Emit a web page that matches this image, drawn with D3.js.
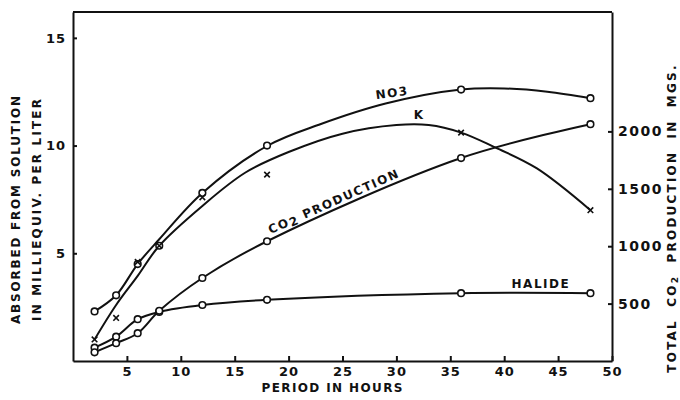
<!DOCTYPE html>
<html lang="en">
  <head>
    <meta charset="utf-8">
    <title>Absorption and CO2 production</title>
    <script src="https://d3js.org/d3.v7.min.js"></script>
    <style>
      body { margin: 0; background: #fff; }
      svg text { font-family: "DejaVu Sans", sans-serif; font-weight: bold; fill: #111; }
      .axis path, .axis line { stroke: #111; stroke-width: 2; }
      .axis text { font-size: 13px; letter-spacing: 1px; }
    </style>
  </head>
  <body>
    <div id="chart"></div>
    <script>
      // sampling times (hours)
      const hours = [2, 4, 6, 8, 12, 18, 36, 48]
      // milliequiv. per liter absorbed
      const no3 = [2.3, 3.05, 4.5, 5.35, 7.8, 10.0, 12.6, 12.2]
      const potassium = [1.0, 2.0, 4.6, 5.35, 7.6, 8.65, 10.6, 7.0]
      const halide = [0.62, 1.13, 1.94, 2.28, 2.6, 2.84, 3.15, 3.15]
      // total CO2 in mgs (right axis)
      const co2 = [76, 155, 242, 437, 723, 1043, 1768, 2063]

      // hand fitted curves
      const no3CurveHours = [2, 4, 6, 8, 12, 18, 23, 29, 36, 40, 44, 48]
      const no3Curve = [2.3, 3.05, 4.5, 5.65, 7.8, 9.98, 11.0, 11.95, 12.6, 12.65, 12.5, 12.2]
      const kCurveHours = [2, 4, 6, 8, 12, 16, 20, 25, 30, 33, 36, 39, 43, 48]
      const kCurve = [1.0, 2.6, 3.95, 5.35, 7.2, 8.75, 9.7, 10.55, 10.95, 10.95, 10.6, 9.95, 8.95, 7.0]

      const xTicks = [5, 10, 15, 20, 25, 30, 35, 40, 45, 50]
      const leftTicks = [5, 10, 15]
      const rightTicks = [500, 1000, 1500, 2000]

      const measurements = { width: 680, height: 400, left: 73, right: 612, top: 12, bottom: 361 }

      const svg = d3.select('#chart').append('svg')
        .attr('width', measurements.width)
        .attr('height', measurements.height)

      const x = d3.scaleLinear().domain([0, 50]).range([measurements.left, measurements.right])
      const yL = d3.scaleLinear().domain([0, 16.2]).range([measurements.bottom, measurements.top])
      const yR = d3.scaleLinear().domain([0, 3040]).range([measurements.bottom, measurements.top])

      // frame + axes
      svg.append('line')
        .attr('x1', measurements.left).attr('x2', measurements.right)
        .attr('y1', measurements.top).attr('y2', measurements.top)
        .attr('stroke', '#111').attr('stroke-width', 2)

      svg.append('g').attr('class', 'axis')
        .attr('transform', 'translate(0,' + measurements.bottom + ')')
        .call(d3.axisBottom(x).tickValues(xTicks).tickSizeInner(-5).tickSizeOuter(0).tickPadding(6))

      svg.append('g').attr('class', 'axis')
        .attr('transform', 'translate(' + measurements.left + ',0)')
        .call(d3.axisLeft(yL).tickValues(leftTicks).tickSizeInner(-4).tickSizeOuter(0).tickPadding(7))

      svg.append('g').attr('class', 'axis')
        .attr('transform', 'translate(' + measurements.right + ',0)')
        .call(d3.axisRight(yR).tickValues(rightTicks).tickFormat(d3.format('d'))
          .tickSizeInner(-4).tickSizeOuter(0).tickPadding(6))
        .selectAll('text').style('font-size', '14px').style('letter-spacing', '1.5px')

      // axis titles
      svg.append('text')
        .attr('x', 332).attr('y', 388)
        .attr('text-anchor', 'middle').attr('dominant-baseline', 'central')
        .attr('font-size', 12).attr('textLength', 141).attr('lengthAdjust', 'spacing')
        .text('PERIOD IN HOURS')

      const leftTitle = [['ABSORBED FROM SOLUTION', 16, 228], ['IN MILLIEQUIV. PER LITER', 37, 222]]
      leftTitle.forEach(function(t) {
        svg.append('text')
          .attr('transform', 'translate(' + t[1] + ',210) rotate(-90)')
          .attr('text-anchor', 'middle').attr('dominant-baseline', 'central')
          .attr('font-size', 12).attr('textLength', t[2]).attr('lengthAdjust', 'spacing')
          .text(t[0])
      })

      const rightTitle = svg.append('text')
        .attr('transform', 'translate(672,218) rotate(-90)')
        .attr('text-anchor', 'middle').attr('dominant-baseline', 'central')
        .attr('font-size', 12).attr('letter-spacing', 2.2).attr('word-spacing', 6)
      rightTitle.append('tspan').text('TOTAL CO')
      rightTitle.append('tspan').attr('dy', 3).attr('font-size', 9).text('2')
      rightTitle.append('tspan').attr('dy', -3).text(' PRODUCTION IN MGS.')

      // curves
      const lineL = d3.line().x(d => x(d[0])).y(d => yL(d[1])).curve(d3.curveCatmullRom.alpha(0.5))
      const lineR = d3.line().x(d => x(d[0])).y(d => yR(d[1])).curve(d3.curveCatmullRom.alpha(0.5))

      const curves = [
        { pts: d3.zip(no3CurveHours, no3Curve), gen: lineL },
        { pts: d3.zip(kCurveHours, kCurve), gen: lineL },
        { pts: d3.zip(hours, halide), gen: lineL },
        { pts: d3.zip(hours, co2), gen: lineR }
      ]
      svg.selectAll('.curve').data(curves).enter().append('path')
        .attr('class', 'curve')
        .attr('d', d => d.gen(d.pts))
        .attr('fill', 'none').attr('stroke', '#111').attr('stroke-width', 2)

      // circle markers
      const circleSets = [
        d3.zip(hours, no3).map(d => [x(d[0]), yL(d[1])]),
        d3.zip(hours, halide).map(d => [x(d[0]), yL(d[1])]),
        d3.zip(hours, co2).map(d => [x(d[0]), yR(d[1])])
      ]
      svg.selectAll('.dot').data(circleSets.flat()).enter().append('circle')
        .attr('class', 'dot')
        .attr('cx', d => d[0]).attr('cy', d => d[1]).attr('r', 3.3)
        .attr('fill', '#fff').attr('stroke', '#111').attr('stroke-width', 1.6)

      // crosses for K
      const cross = d3.symbol().type(d3.symbolX).size(22)
      svg.selectAll('.kx').data(d3.zip(hours, potassium)).enter().append('path')
        .attr('class', 'kx')
        .attr('transform', d => 'translate(' + x(d[0]) + ',' + yL(d[1]) + ')')
        .attr('d', cross)
        .attr('stroke', '#111').attr('stroke-width', 1.6)

      // series labels
      function label(px, py, angle, size, parts) {
        const t = svg.append('text')
          .attr('transform', 'translate(' + px + ',' + py + ') rotate(' + angle + ')')
          .attr('text-anchor', 'middle').attr('dominant-baseline', 'central')
          .attr('font-size', size).attr('letter-spacing', 1.5)
        parts.forEach(function(p) {
          t.append('tspan').attr('dy', p.dy || 0).attr('font-size', p.size || size).text(p.text)
        })
      }
      label(x(29.6), yL(12.44), -8, 12, [{ text: 'NO3' }])
      label(x(32.1), yL(11.4), 0, 12, [{ text: 'K' }])
      label(x(24.2), yR(1389), -24, 12, [{ text: 'CO' }, { text: '2', dy: 2 }, { text: ' PRODUCTION', dy: -2 }])
      label(x(43.4), yL(3.59), 0, 12, [{ text: 'HALIDE' }])
    </script>
  </body>
</html>
